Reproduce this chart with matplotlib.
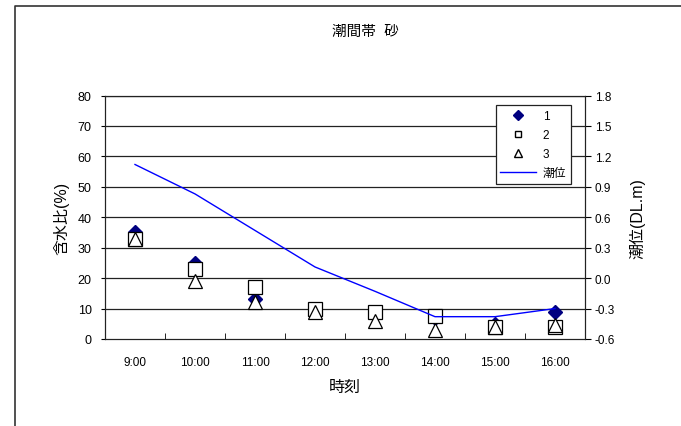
import matplotlib
matplotlib.use("Agg")
import matplotlib.pyplot as plt
import numpy as np
from matplotlib.lines import Line2D

plt.rcParams['font.family'] = ['Liberation Sans', 'Noto Sans CJK JP', 'DejaVu Sans']

# water content (%) for three samples, and tide level (DL. m)
times = ['9:00', '10:00', '11:00', '12:00', '13:00', '14:00', '15:00', '16:00']
s1 = [35, 25, 13, 10, 9, 7, 5, 9]
s2 = [33, 23, 17, 10, 9, 7.5, 4, 4]
s3 = [33, 19, 12, 9, 6, 3, 4, 4.5]
tide = [1.12, 0.83, 0.47, 0.11, -0.13, -0.38, -0.38, -0.30]
yticks_l = [0, 10, 20, 30, 40, 50, 60, 70, 80]
yticks_r = [-0.6, -0.3, 0.0, 0.3, 0.6, 0.9, 1.2, 1.5, 1.8]

fig = plt.figure(figsize=(6.81, 4.27), dpi=100)
ax = fig.add_axes([105/681, 1-340/427, 480/681, 243.5/427])
x = np.arange(len(times))

# outer chart frame (only left and top edges fall inside the image)
fig.add_artist(Line2D([15/681, 15/681, 1.0], [0.0, 1-7/427, 1-7/427],
                      transform=fig.transFigure, color='#333333', lw=1.2))

ax.set_xlim(-0.5, len(times)-0.5)
ax.set_ylim(0, 80)
ax.set_yticks(yticks_l)
ax.tick_params(axis='y', direction='out', length=3, labelsize=9, pad=6.5)
ax.set_xticks(x)
ax.set_xticklabels(times)
ax.set_xticks(np.arange(0.5, len(times)-1, 1), minor=True)
ax.tick_params(axis='x', which='major', length=0, labelsize=8.5, pad=12)
ax.tick_params(axis='x', which='minor', direction='in', length=4)
for yv in yticks_l[1:]:
    ax.axhline(yv, color='#222222', lw=0.9, zorder=0)
for sp in ax.spines.values():
    sp.set_color('#222222')

ax.plot(x, s1, ls='none', marker='D', ms=7.5, color='#000080', label='1', zorder=3)
ax.plot(x, s2, ls='none', marker='s', ms=9.5, mfc='white', mec='black', mew=0.9, label='2', zorder=4)
ax.plot(x, s3, ls='none', marker='^', ms=10.5, mfc='white', mec='black', mew=0.9, label='3', zorder=5)

ax2 = ax.twinx()
ax2.set_ylim(-0.6, 1.8)
ax2.set_yticks(yticks_r)
ax2.set_yticklabels(['%.1f' % v for v in yticks_r])
ax2.tick_params(axis='y', direction='out', length=4, labelsize=8.5, pad=3)
for sp in ax2.spines.values():
    sp.set_color('#222222')
ax2.plot(x, tide, color='#0000FF', lw=1, label='潮位')

ax.set_ylabel('含水比(%)', fontsize=11.5, labelpad=6)
ax2.set_ylabel('潮位(DL.m)', fontsize=11.5, labelpad=10)
ax.set_xlabel('時刻', fontsize=11.5, labelpad=8)
fig.text(365/681, 1-32/427, '潮間帯  砂', ha='center', va='center', fontsize=10.5)

h1, l1 = ax.get_legend_handles_labels()
h2, l2 = ax2.get_legend_handles_labels()
small = [Line2D([], [], ls='none', marker='D', ms=5, color='#000080'),
         Line2D([], [], ls='none', marker='s', ms=5, mfc='white', mec='black'),
         Line2D([], [], ls='none', marker='^', ms=6, mfc='white', mec='black')]
leg = ax2.legend(small + h2, l1 + l2, loc='upper right', bbox_to_anchor=(0.971, 0.961),
                 borderaxespad=0, fontsize=8.5, frameon=True, fancybox=False, framealpha=1,
                 edgecolor='#222222', borderpad=0.4, labelspacing=0.6, handlelength=3.0,
                 handletextpad=0.6)
leg.get_frame().set_linewidth(0.9)

fig.savefig('out.png', dpi=100)
